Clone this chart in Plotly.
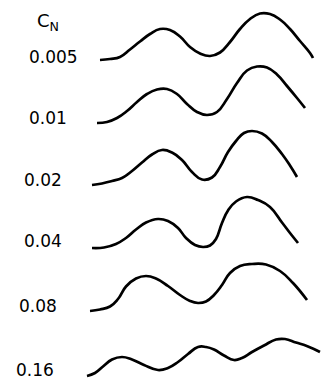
import plotly.graph_objects as go

# C_N values (labels) and vertical baseline level of each trace
cn_labels = ["0.005", "0.01", "0.02", "0.04", "0.08", "0.16"]
baselines = [323, 260, 198, 135, 72, 7]
label_x = [27, 27, 22, 22, 17, 14]
label_dy = [3, 5, 5, 7, 5, 6]

# each trace: position along x and amplitude above its baseline
x1 = [100, 110, 120, 130, 140, 150, 160, 170, 180, 190, 200, 210, 220, 230,
      240, 250, 260, 270, 280, 290, 300, 310, 313]
a1 = [0, 1, 3, 10.5, 18.5, 26, 31, 30, 23.5, 13, 6.5, 4, 7.5, 18,
      31, 41, 46.5, 46, 40.5, 31, 19, 7, 2]
x2 = [97, 107, 117, 127, 137, 147, 157, 167, 177, 187, 197, 207, 217, 227,
      237, 247, 257, 267, 277, 287, 297, 305]
a2 = [0, 1, 5, 12, 21, 29, 33.5, 34, 29, 19, 11, 8, 11, 24,
      40, 52.5, 56.5, 55.5, 48.5, 37, 25, 15]
x3 = [92, 102, 112, 122, 132, 142, 152, 162, 172, 182, 192, 202, 212, 220,
      228, 236, 244, 252, 262, 272, 282, 290, 297]
a3 = [0, 1.5, 4, 7, 14, 22.5, 30.5, 35, 32.5, 25, 13, 5.5, 7.5, 18,
      33, 44, 52, 54, 51.5, 43, 31, 19.5, 8]
x4 = [92, 104, 116, 126, 136, 146, 158, 168, 178, 186, 195, 203, 210, 216,
      222, 228, 236, 247, 258, 270, 282, 290, 298]
a4 = [0, 0.5, 4, 10, 18.5, 25.5, 29, 27, 20, 10, 3, 1, 2.5, 9,
      25, 37.5, 46.5, 51, 48, 41, 25.5, 15, 5]
x5 = [90, 100, 110, 118, 126, 136, 146, 156, 168, 180, 190, 198, 206, 214,
      222, 230, 240, 252, 266, 280, 293, 307]
a5 = [0, 1.5, 4.5, 12, 24.5, 32.5, 35, 32.5, 25, 16, 10, 8, 9.5, 16,
      26, 38, 45, 47, 46.5, 40, 28, 11]
x6 = [87, 95, 103, 112, 122, 132, 144, 158, 168, 178, 188, 198, 206, 214,
      224, 234, 242, 252, 264, 276, 285, 296, 308, 320]
a6 = [0, 3, 9.5, 16.5, 19, 16.5, 11, 6, 8, 14, 22, 29, 29, 26.5,
      20.5, 16, 18, 24, 30.5, 36.5, 37, 33.5, 29.5, 24]

xs = [x1, x2, x3, x4, x5, x6]
amps = [a1, a2, a3, a4, a5, a6]

fig = go.Figure()
for xv, av, base, lab in zip(xs, amps, baselines, cn_labels):
    fig.add_trace(go.Scatter(
        x=xv, y=[base + a for a in av], mode="lines", name=lab,
        line=dict(color="black", width=2.7, shape="spline", smoothing=1.3),
        showlegend=False, hoverinfo="skip"))

font = dict(family="DejaVu Sans", size=17, color="black")
for lab, base, lx, dy in zip(cn_labels, baselines, label_x, label_dy):
    fig.add_annotation(x=lx, y=base + dy, text=lab, showarrow=False,
                       xanchor="left", yanchor="middle", xref="x", yref="y",
                       font=font)
fig.add_annotation(x=35, y=361, text="C<sub>N</sub>", showarrow=False,
                   xanchor="left", yanchor="middle", xref="x", yref="y",
                   font=dict(family="DejaVu Sans", size=18, color="black"))

fig.update_layout(
    width=321, height=383, margin=dict(l=0, r=0, t=0, b=0),
    paper_bgcolor="white", plot_bgcolor="white",
    xaxis=dict(range=[0, 321], visible=False, fixedrange=True),
    yaxis=dict(range=[0, 383], visible=False, fixedrange=True),
)
fig.write_html("out.html")
